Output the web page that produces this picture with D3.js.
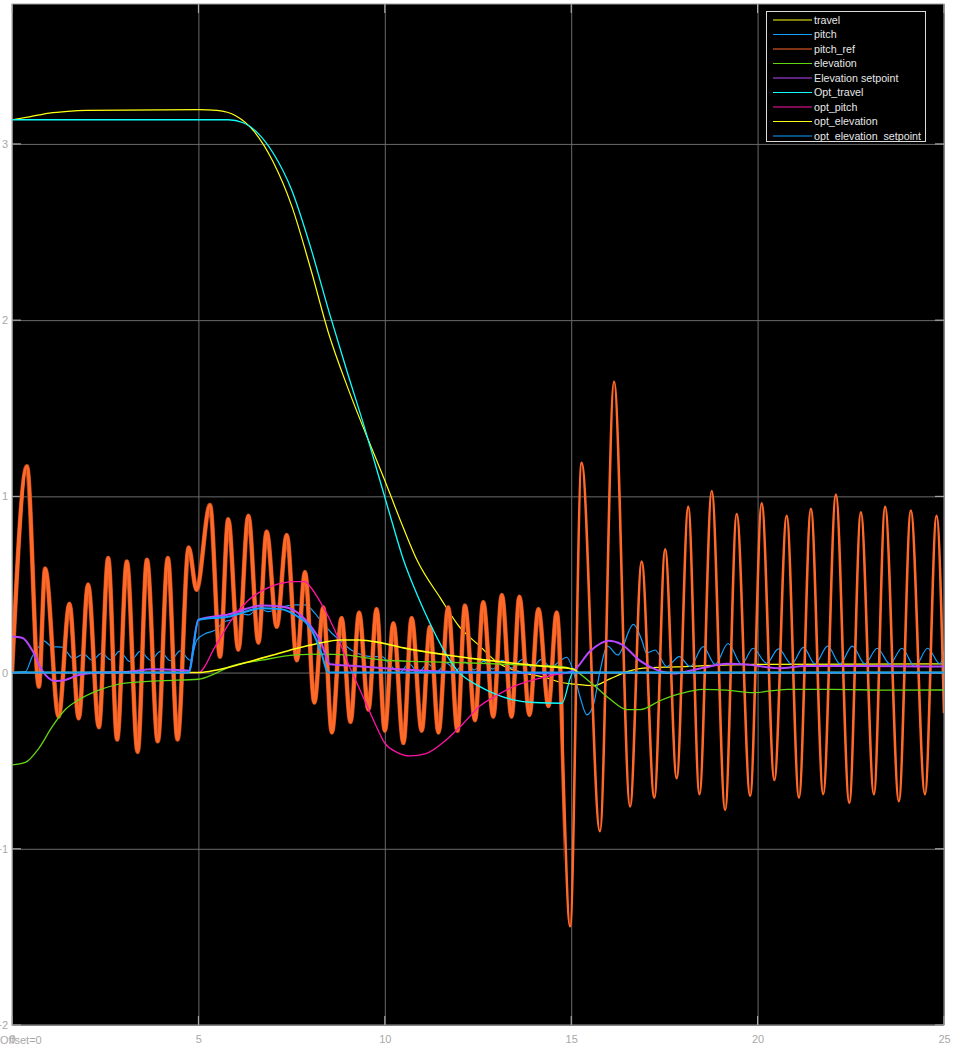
<!DOCTYPE html>
<html><head><meta charset="utf-8">
<script src="https://cdn.jsdelivr.net/npm/d3@7"></script>
<style>
html,body{margin:0;padding:0;background:#fff;}
svg{display:block;font-family:"Liberation Sans",Arial,sans-serif;}
</style></head><body>
<svg id="c" width="958" height="1050"></svg>
<script>
// ---------- data ----------
const xTicks = [0, 5, 10, 15, 20, 25];
const yTicks = [-2, -1, 0, 1, 2, 3];
const seriesNames = ["travel","pitch","pitch_ref","elevation","Elevation setpoint","Opt_travel","opt_pitch","opt_elevation","opt_elevation_setpoint"];
const seriesColors = ["#FFFF11","#139FFF","#FF6929","#64D413","#B746FF","#0FFFFF","#FF13A6","#FFFF11","#139FFF"];
const offsetLabel = "Offset=0";

const travel = [[0,3.137],[0.5,3.155],[1,3.175],[1.5,3.185],[2,3.19],[5,3.195],[5.5,3.19],[6,3.16],[6.5,3.07],[7,2.9],[7.5,2.65],[8,2.3],[8.5,1.92],[9,1.62],[9.5,1.35],[10,1.09],[10.5,0.82],[10.86,0.64],[11.5,0.42],[12,0.26],[12.55,0.15],[13,0.06],[13.6,0.005],[14.34,-0.03],[14.7,-0.055],[15.1,-0.066],[15.6,-0.074],[16.04,-0.036],[16.5,0.005],[16.93,0.025],[17.8,0.032],[19.9,0.046],[25,0.049]];

const pitch = [[0,0],[0.36,0.005],[0.54,0.09],[0.72,0.147],[0.85,0.18],[1.07,0.147],[1.34,0.144],[1.65,0.08],[1.92,0.105],[2.15,0.07],[2.41,0.11],[2.65,0.072],[2.88,0.12],[3.17,0.062],[3.44,0.12],[3.72,0.07],[3.98,0.12],[4.25,0.067],[4.51,0.123],[4.78,0.07],[4.96,0.185],[5.18,0.22],[5.44,0.24],[5.71,0.29],[5.89,0.3],[6.07,0.336],[6.34,0.327],[6.61,0.365],[6.87,0.346],[7.23,0.37],[7.59,0.384],[7.86,0.384],[8.13,0.336],[8.3,0.29],[8.58,0.223],[8.84,0.175],[9.1,0.128],[9.38,0.1],[9.65,0.09],[9.92,0.09],[10.14,0.043],[10.4,0.0],[10.65,0.05],[10.9,0.0],[11.15,0.05],[11.4,0.005],[11.65,0.055],[11.9,0.01],[12.15,0.06],[12.4,0.015],[12.65,0.065],[12.9,0.02],[13.15,0.07],[13.4,0.025],[13.7,0.075],[13.95,0.03],[14.2,0.075],[14.45,0.03],[14.7,0.066],[14.88,0.087],[15.06,0.005],[15.24,-0.14],[15.42,-0.24],[15.6,-0.18],[15.77,0.005],[15.97,0.15],[16.25,0.1],[16.67,0.273],[16.9,0.18],[17.02,0.11],[17.25,0.128],[17.56,0.034],[17.9,0.09],[18.19,0.034],[18.54,0.147],[18.86,0.046],[19.21,0.165],[19.57,0.046],[19.88,0.138],[20.24,0.053],[20.56,0.134],[20.91,0.049],[21.23,0.143],[21.54,0.049],[21.88,0.15],[22.21,0.049],[22.54,0.15],[22.88,0.049],[23.21,0.138],[23.55,0.049],[23.87,0.138],[24.22,0.034],[24.56,0.138],[24.89,0.049],[25,0.12]];

const pitchRef = [[0,0.0],[0.4,1.17],[0.72,-0.08],[0.89,0.59],[1.25,-0.25],[1.54,0.39],[1.79,-0.26],[2.04,0.5],[2.33,-0.31],[2.58,0.65],[2.82,-0.38],[3.08,0.63],[3.37,-0.45],[3.62,0.64],[3.91,-0.39],[4.18,0.65],[4.44,-0.38],[4.74,0.71],[4.95,0.47],[5.31,0.95],[5.58,0.09],[5.8,0.87],[6.07,0.13],[6.34,0.89],[6.61,0.17],[6.83,0.8],[7.1,0.26],[7.37,0.78],[7.64,0.07],[7.86,0.57],[8.11,-0.17],[8.35,0.37],[8.58,-0.34],[8.84,0.31],[9.08,-0.28],[9.31,0.34],[9.56,-0.21],[9.78,0.36],[10.0,-0.33],[10.23,0.28],[10.5,-0.4],[10.72,0.31],[10.99,-0.33],[11.21,0.26],[11.44,-0.34],[11.7,0.37],[11.95,-0.33],[12.15,0.38],[12.42,-0.27],[12.64,0.4],[12.91,-0.25],[13.14,0.44],[13.4,-0.25],[13.61,0.43],[13.88,-0.24],[14.12,0.36],[14.39,-0.19],[14.61,0.34],[14.97,-1.44],[15.28,1.19],[15.77,-0.9],[16.15,1.65],[16.58,-0.76],[16.89,0.63],[17.23,-0.71],[17.52,0.7],[17.83,-0.6],[18.14,0.94],[18.44,-0.69],[18.77,1.03],[19.13,-0.78],[19.44,0.9],[19.8,-0.7],[20.11,0.96],[20.45,-0.61],[20.78,0.89],[21.11,-0.71],[21.43,0.93],[21.76,-0.69],[22.1,1.01],[22.46,-0.74],[22.77,0.91],[23.12,-0.69],[23.42,0.94],[23.79,-0.73],[24.11,0.92],[24.49,-0.69],[24.8,0.89],[25,-0.23]];

const elevation = [[0,-0.524],[0.36,-0.51],[0.72,-0.43],[1.07,-0.31],[1.43,-0.21],[1.79,-0.155],[2.33,-0.1],[3.04,-0.06],[4.02,-0.046],[5.0,-0.038],[5.4,-0.01],[5.8,0.03],[6.7,0.07],[7.6,0.1],[8.3,0.105],[8.93,0.1],[10,0.07],[11,0.062],[12.55,0.053],[14,0.04],[14.7,0.035],[15.06,0.015],[15.6,-0.07],[16.04,-0.15],[16.49,-0.21],[16.85,-0.21],[17.38,-0.16],[17.92,-0.12],[18.54,-0.095],[19.17,-0.1],[19.88,-0.114],[20.8,-0.095],[22,-0.095],[23.5,-0.1],[25,-0.099]];

const elevationSetpoint = [[0,0.204],[0.27,0.198],[0.54,0.128],[0.8,0.015],[1.16,-0.048],[1.43,-0.042],[1.79,-0.014],[2.33,0],[3.13,0.005],[3.76,0.019],[4.47,0.015],[4.74,0.01],[5.0,0.3],[5.8,0.33],[6.7,0.38],[7.23,0.375],[7.59,0.35],[7.95,0.28],[8.3,0.166],[8.53,0.047],[9.2,0.037],[10.0,0.024],[11.66,0.005],[13.44,0],[14.7,-0.005],[15.05,0.01],[15.5,0.12],[16.0,0.18],[16.35,0.16],[16.85,0.066],[17.29,0.015],[17.74,-0.005],[18.28,0.015],[18.72,0.035],[19.17,0.05],[19.7,0.046],[20.56,0.024],[21.27,0.037],[23,0.037],[25,0.034]];

const optTravel = [[0,3.137],[5.8,3.137],[6.2,3.12],[6.6,3.06],[7,2.95],[7.5,2.74],[8,2.42],[8.5,2.05],[9,1.7],[9.4,1.43],[9.87,1.09],[10.2,0.85],[10.5,0.64],[10.85,0.45],[11.21,0.28],[11.6,0.12],[11.93,0.015],[12.55,-0.08],[13,-0.125],[13.45,-0.155],[14,-0.17],[14.75,-0.174],[15.05,0],[25,0]];

const optPitch = [[0,0],[5.0,0],[5.45,0.147],[5.89,0.3],[6.34,0.41],[6.97,0.49],[7.59,0.516],[7.86,0.516],[7.99,0.49],[8.3,0.39],[8.66,0.24],[9.02,0.05],[9.38,-0.12],[9.74,-0.29],[10.0,-0.4],[10.3,-0.45],[10.68,-0.473],[11.1,-0.46],[11.66,-0.38],[12.1,-0.29],[12.55,-0.19],[13.0,-0.13],[13.45,-0.08],[14.34,-0.023],[14.97,0],[25,0]];

const optElevation = [[0,0],[5.0,0],[5.5,0.015],[6.0,0.04],[6.5,0.07],[7.0,0.1],[7.6,0.135],[8.2,0.165],[8.8,0.185],[9.3,0.185],[9.87,0.17],[10.5,0.14],[11.66,0.1],[12.55,0.075],[13.45,0.053],[14.3,0.035],[15.06,0.02],[15.2,0],[25,0]];

const optElevationSetpoint = [[0,0],[4.74,0],[5.0,0.3],[5.8,0.317],[6.7,0.365],[7.2,0.36],[7.59,0.327],[8.04,0.24],[8.3,0.11],[8.48,0],[25,0]];

const allSeries = [travel, pitch, pitchRef, elevation, elevationSetpoint, optTravel, optPitch, optElevation, optElevationSetpoint];
const widths = [1.2, 1.2, 2.6, 1.3, 2.0, 1.3, 1.3, 1.6, 2.0];

// ---------- layout ----------
const L = 12, R = 944, T = 4, B = 1025;
const svg = d3.select("#c");
const x = d3.scaleLinear().domain([0, 25]).range([L, R]);
const y = d3.scaleLinear().domain([-2, 3.794]).range([B, T]);

svg.append("rect").attr("x", L).attr("y", T).attr("width", R - L).attr("height", B - T).attr("fill", "#000");

// grid + labels via axes
const gx = svg.append("g").attr("transform", `translate(0,${B})`)
  .call(d3.axisBottom(x).tickValues(xTicks).tickSize(-(B - T)).tickPadding(10).tickFormat(d3.format("d")));
const gy = svg.append("g").attr("transform", `translate(${L},0)`)
  .call(d3.axisLeft(y).tickValues(yTicks).tickSize(-(R - L)).tickPadding(4).tickFormat(d => d < 0 ? "\u2212" + Math.abs(d) : String(d)));
[gx, gy].forEach(g => {
  g.select(".domain").remove();
  g.selectAll(".tick line").attr("stroke", "#6a6a6a").attr("stroke-width", 1);
  g.selectAll(".tick text").attr("fill", "#a8a8a8").attr("font-size", "11px").attr("font-family", "Liberation Sans, Arial, sans-serif");
});

// inward tick marks
const tk = svg.append("g").attr("stroke", "#b8b8b8").attr("stroke-width", 1);
yTicks.forEach(v => {
  tk.append("line").attr("x1", L).attr("x2", L + 9).attr("y1", y(v)).attr("y2", y(v));
  tk.append("line").attr("x1", R - 9).attr("x2", R).attr("y1", y(v)).attr("y2", y(v));
});
xTicks.forEach(v => {
  tk.append("line").attr("x1", x(v)).attr("x2", x(v)).attr("y1", B).attr("y2", B - 9);
  tk.append("line").attr("x1", x(v)).attr("x2", x(v)).attr("y1", T).attr("y2", T + 9);
});

// clip
svg.append("clipPath").attr("id", "plotclip").append("rect").attr("x", L).attr("y", T).attr("width", R - L).attr("height", B - T);
svg.append("clipPath").attr("id", "leftclip").append("rect").attr("x", L).attr("y", T).attr("width", x(14.8) - L).attr("height", B - T);

const line = d3.line().x(d => x(d[0])).y(d => y(d[1])).curve(d3.curveMonotoneX);
const plot = svg.append("g").attr("clip-path", "url(#plotclip)");

allSeries.forEach((s, i) => {
  if (i === 2) {
    plot.append("path").attr("d", line(s)).attr("fill", "none").attr("stroke", "#b9491b").attr("stroke-width", 4.6).attr("clip-path", "url(#leftclip)");
    plot.append("path").attr("d", line(s)).attr("fill", "none").attr("stroke", seriesColors[i]).attr("stroke-width", 3.4).attr("clip-path", "url(#leftclip)");
  }
  plot.append("path").attr("d", line(s)).attr("fill", "none")
    .attr("stroke", seriesColors[i]).attr("stroke-width", widths[i]).attr("stroke-linejoin", "round");
});

// frame
svg.append("rect").attr("x", L).attr("y", T).attr("width", R - L).attr("height", B - T)
  .attr("fill", "none").attr("stroke", "#a0a0a0").attr("stroke-width", 1);

// offset label
svg.append("text").attr("x", 0).attr("y", 1044).attr("font-size", "11px").attr("fill", "#a8a8a8").text(offsetLabel);

// legend
const lg = svg.append("g");
lg.append("rect").attr("x", 766.5).attr("y", 11.5).attr("width", 159).attr("height", 130).attr("fill", "#000").attr("stroke", "#dcdcdc").attr("stroke-width", 1);
seriesNames.forEach((n, i) => {
  const yy = 20 + i * 14.5;
  lg.append("line").attr("x1", 773).attr("x2", 812).attr("y1", yy).attr("y2", yy).attr("stroke", seriesColors[i]).attr("stroke-width", 1.2);
  lg.append("text").attr("x", 814).attr("y", yy).attr("dy", "0.35em").attr("font-size", "10.7px").attr("fill", "#e6e6e6").text(n);
});
</script>
</body></html>
